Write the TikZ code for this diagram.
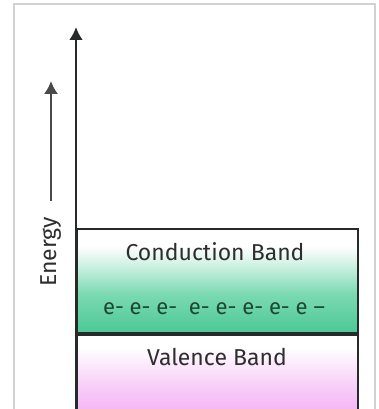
\documentclass[tikz,border=0pt]{standalone}
\usepackage{fontspec}
\setmainfont{Fira Sans}
\usetikzlibrary{arrows.meta,positioning}
\definecolor{frame}{HTML}{D2D2D2}
\definecolor{ink}{HTML}{2E2E2E}
\definecolor{einks}{HTML}{1E4634}
\definecolor{edge}{HTML}{262A28}
\definecolor{cbmint}{HTML}{7BDAB2}
\definecolor{cbgreen}{HTML}{4CC795}
\definecolor{vbpink}{HTML}{F3AEF3}
\pgfdeclareverticalshading{cbshade}{100bp}{color(0bp)=(cbgreen); color(25bp)=(cbgreen); color(44bp)=(cbmint); color(58bp)=(cbmint!35); color(67bp)=(white); color(100bp)=(white)}
\pgfdeclareverticalshading{vbshade}{100bp}{color(0bp)=(vbpink); color(25bp)=(vbpink); color(45bp)=(vbpink!60); color(68bp)=(white); color(100bp)=(white)}

\tikzset{
  band/.style={draw=edge,line width=2.2pt,minimum width=281pt,inner sep=0pt},
  bandtext/.style={text=ink,font=\fontsize{23}{25}\selectfont,inner sep=0pt},
  tip/.style={-{Latex[length=13pt,width=14pt]}}
}

\begin{document}
\begin{tikzpicture}[x=1pt,y=-1pt]
  \clip (0,0) rectangle (378,409);
  \fill[white] (0,0) rectangle (378,409);
  % outer frame
  \draw[frame,line width=2.4pt] (14,430) -- (14,4) -- (375,4) -- (375,430);
  % bands
  \node[band,shading=cbshade,minimum height=104pt,anchor=north west] (cb) at (76,228) {};
  \node[band,shading=vbshade,minimum height=84pt,below=0pt of cb] (vb) {};
  \node[bandtext] (cbl) at (215,252) {Conduction Band};
  \node[bandtext,text=einks,font=\fontsize{22}{24}\selectfont] (elec) at (214,309) {e- e- e-\ \ e- e- e- e- e –};
  \node[bandtext] (vbl) at (217,357) {Valence Band};
  % energy axis
  \coordinate (axbot) at (76,420);
  \coordinate (axtop) at (76,27);
  \draw[tip,edge,line width=2.6pt] (axbot) -- (axtop);
  \node[bandtext,rotate=90] (elab) at (51,252) {Energy};
  \coordinate (ebot) at (51,201);
  \coordinate (etop) at (51,81);
  \draw[tip,edge!85,line width=1.8pt] (ebot) -- (etop);
\end{tikzpicture}
\end{document}
